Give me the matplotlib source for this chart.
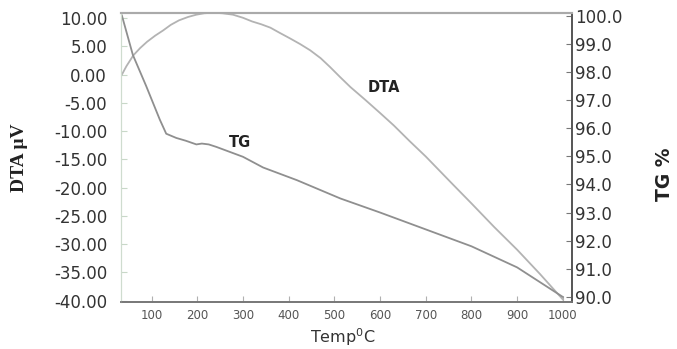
import matplotlib.pyplot as plt

# DTA curve (uV)
dta_temp = [35, 45, 60, 75, 90, 108, 125, 142, 160, 180, 198, 215, 234, 255,
            278, 300, 320, 340, 360, 380, 403, 425, 447, 470, 491, 512, 535,
            568, 600, 630, 665, 700, 760, 800, 850, 900, 950, 1000]
dta_val = [0.0, 1.5, 3.4, 4.7, 5.8, 6.9, 7.8, 8.8, 9.6, 10.2, 10.6, 10.85, 10.95,
           10.85, 10.6, 10.05, 9.4, 8.9, 8.3, 7.4, 6.4, 5.4, 4.3, 2.9, 1.3, -0.4,
           -2.2, -4.5, -6.8, -9.0, -11.8, -14.5, -19.5, -22.8, -27.0, -31.0,
           -35.3, -39.8]

# TG curve (%)
tg_temp = [35, 59, 88, 103, 118, 132, 154, 175, 198, 210, 225, 242, 300, 344,
           418, 513, 600, 700, 800, 900, 1000]
tg_val = [100.0, 98.6, 97.5, 96.9, 96.3, 95.8, 95.65, 95.55, 95.42, 95.45, 95.42,
          95.33, 94.98, 94.6, 94.15, 93.5, 93.0, 92.4, 91.8, 91.05, 90.0]

x_ticks = [100, 200, 300, 400, 500, 600, 700, 800, 900, 1000]
dta_ticks = [10, 5, 0, -5, -10, -15, -20, -25, -30, -35, -40]
tg_ticks = [100, 99, 98, 97, 96, 95, 94, 93, 92, 91, 90]

fig = plt.figure(figsize=(6.77, 3.49), dpi=100)
ax = fig.add_axes([0.1787, 0.1338, 0.8449 - 0.1787, 0.9636 - 0.1338])
ax2 = ax.twinx()

ax.plot(dta_temp, dta_val, color='#b3b3b3', lw=1.3)
ax2.plot(tg_temp, tg_val, color='#8f8f8f', lw=1.3)

ax.set_xlim(33, 1020)
ax.set_ylim(-40.3, 10.95)
ax2.set_ylim(89.81, 100.1)

ax.set_xticks(x_ticks)
ax.set_xticklabels([str(t) for t in x_ticks], fontsize=8.5, color='#555555')
ax.set_yticks(dta_ticks)
ax.set_yticklabels(['%.2f' % v for v in dta_ticks], fontsize=12, color='#333333')
ax2.set_yticks(tg_ticks)
ax2.set_yticklabels(['%.1f' % v for v in tg_ticks], fontsize=12, color='#333333')

ax.tick_params(axis='x', direction='in', length=4, color='#b0b0b0', pad=5)
ax.tick_params(axis='y', direction='in', length=4, color='#c8d8c8', pad=10)
ax2.tick_params(axis='y', direction='in', length=4, color='#777777', pad=2)

for a in (ax, ax2):
    a.spines['left'].set_color('#cfdccf')
    a.spines['left'].set_linewidth(0.8)
    a.spines['bottom'].set_color('#777777')
    a.spines['bottom'].set_linewidth(1.2)
    a.spines['top'].set_color('#aaaaaa')
    a.spines['top'].set_linewidth(1.5)
    a.spines['right'].set_color('#555555')
    a.spines['right'].set_linewidth(1.2)

ax.text(608, -2.2, 'DTA', fontsize=10.5, fontweight='bold', color='#222222',
        ha='center', va='center')
ax2.text(293, 95.5, 'TG', fontsize=10.5, fontweight='bold', color='#222222',
         ha='center', va='center')

fig.text(343 / 677, 0.035, 'Temp$^{0}$C', fontsize=11.5, color='#333333',
         ha='center', va='center')
fig.text(20 / 677, 0.547, 'DTA \u03bcV', fontsize=14, fontweight='bold',
         family=['Liberation Serif', 'DejaVu Serif'], color='#222222',
         rotation=90, ha='center', va='center')
fig.text(664 / 677, 0.5, 'TG %', fontsize=13.5, fontweight='bold',
         color='#222222', rotation=90, ha='center', va='center')

fig.savefig('out.png', dpi=100)
